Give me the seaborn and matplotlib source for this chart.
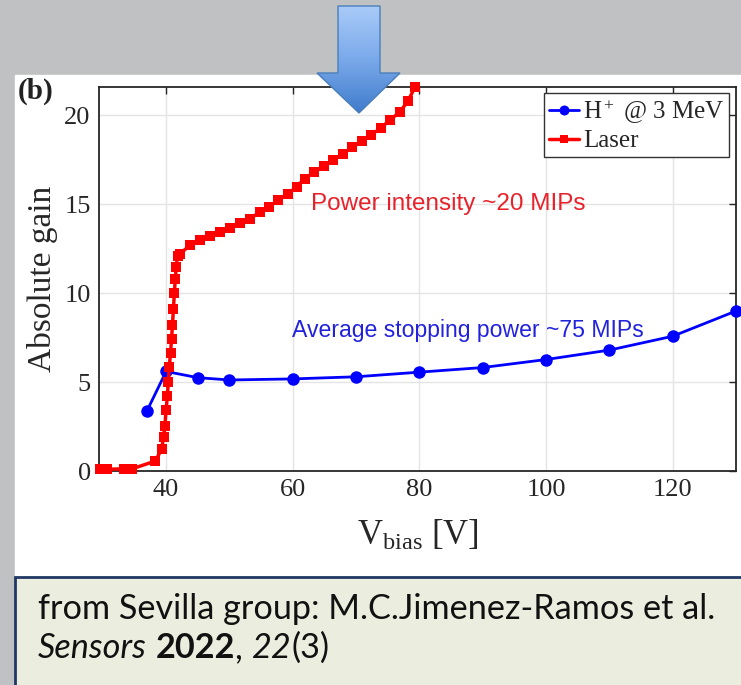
import numpy as np
import pandas as pd
import matplotlib
matplotlib.use("Agg")
import matplotlib.pyplot as plt
import seaborn as sns
from matplotlib.patches import Polygon, Rectangle
from matplotlib.colors import LinearSegmentedColormap

# ---- data -------------------------------------------------------------
# H+ beam at 3 MeV
proton_v = [37, 40, 45, 50, 60, 70, 80, 90, 100, 110, 120, 130]
proton_gain = [3.4, 5.6, 5.25, 5.12, 5.18, 5.3, 5.56, 5.82, 6.27, 6.8, 7.58, 9.0]

# Laser
laser_v = [29.6, 30.7, 33.4, 34.6, 38.3, 39.3, 39.6, 39.8, 40.0, 40.2, 40.35,
           40.5, 40.7, 40.85, 41.0, 41.15, 41.3, 41.45, 41.6, 41.8,
           42.2, 43.8, 45.4, 47.0, 48.5, 50.1, 51.7, 53.3, 54.8, 56.2, 57.7,
           59.3, 60.6, 61.9, 63.4, 64.9, 66.4, 67.9, 69.4, 70.9, 72.4, 73.9,
           75.4, 76.9, 78.2, 79.3]
laser_gain = [0.1, 0.1, 0.12, 0.12, 0.56, 1.24, 1.93, 2.53, 3.43, 4.23, 5.0,
              5.86, 6.65, 7.4, 8.2, 9.1, 10.0, 10.8, 11.5, 12.1,
              12.23, 12.7, 12.98, 13.2, 13.45, 13.69, 13.95, 14.2, 14.57, 14.85,
              15.22, 15.6, 16.0, 16.45, 16.8, 17.15, 17.5, 17.85, 18.2, 18.55,
              18.9, 19.3, 19.75, 20.2, 20.8, 21.6]

x_ticks = [40, 60, 80, 100, 120]
y_ticks = [0, 5, 10, 15, 20]

series_labels = [r"$\mathregular{H^+}$ @ 3 MeV", "Laser"]
annot_laser = "Power intensity ~20 MIPs"
annot_proton = "Average stopping power ~75 MIPs"
caption_line1 = "from Sevilla group: M.C.Jimenez-Ramos et al."
caption_line2 = [("Sensors", "italic", "normal"), (" ", "normal", "normal"),
                 ("2022", "normal", "bold"), (", ", "normal", "normal"),
                 ("22", "italic", "normal"), ("(3)", "normal", "normal")]

proton_df = pd.DataFrame({"V": proton_v, "gain": proton_gain})
laser_df = pd.DataFrame({"V": laser_v, "gain": laser_gain})

# ---- style ------------------------------------------------------------
sns.set_style("white")
plt.rcParams["font.family"] = ["Liberation Serif", "DejaVu Serif"]
plt.rcParams["mathtext.fontset"] = "stix"

W, H = 741, 685
fig = plt.figure(figsize=(W / 100, H / 100), dpi=100)

# slide canvas in pixel coordinates
bg = fig.add_axes([0, 0, 1, 1], zorder=0)
bg.set_xlim(0, W)
bg.set_ylim(H, 0)
bg.axis("off")
bg.add_patch(Rectangle((0, 0), W, H, color="#c0c1c3"))
bg.add_patch(Rectangle((15, 75), W - 15, 503, color="white"))
bg.add_patch(Rectangle((15, 577), W, 120, facecolor="#ebeedf",
                       edgecolor="#1f3864", lw=2))

# caption
cap_font = ["Lato", "DejaVu Sans"]
cap_size = 24.7
bg.text(38, 609, caption_line1, fontsize=cap_size, family=cap_font,
        color="#111111", va="center", ha="left")
renderer = fig.canvas.get_renderer()
x0 = 38
for txt, style, weight in caption_line2:
    t = bg.text(x0, 648, txt, fontsize=cap_size, family=cap_font,
                color="#111111", style=style, fontweight=weight,
                va="center", ha="left")
    x0 += t.get_window_extent(renderer).width

# panel label
bg.text(18, 91, "(b)", fontsize=21, fontweight="bold", va="center", ha="left",
        color="#222222")

# ---- main axes --------------------------------------------------------
ax = fig.add_axes([99 / W, 1 - 471 / H, (736 - 99) / W, (471 - 87) / H], zorder=2)
ax.set_facecolor("white")

sns.lineplot(data=proton_df, x="V", y="gain", ax=ax, color="#0000ff",
             marker="o", markersize=9, markeredgewidth=0, linewidth=2,
             label=series_labels[0], sort=False, clip_on=False, zorder=3)
sns.lineplot(data=laser_df, x="V", y="gain", ax=ax, color="#ff0000",
             marker="s", markersize=7, markeredgewidth=0, linewidth=2.5,
             label=series_labels[1], sort=False, clip_on=False, zorder=4)

ax.set_xlim(29.4, 130)
ax.set_ylim(0, 21.6)
ax.set_xticks(x_ticks)
ax.set_yticks(y_ticks)
ax.grid(True, color="#e4e4e4", linewidth=1)
ax.set_axisbelow(True)
for s in ax.spines.values():
    s.set_color("#262626")
    s.set_linewidth(1.3)
    s.set_visible(True)
ax.tick_params(direction="in", length=5, width=1, top=True, right=True,
               labelsize=19, colors="#262626", pad=6)

ax.set_xlabel(r"$\mathregular{V_{bias}}$ [V]", fontsize=25, color="#262626")
ax.set_ylabel("Absolute gain", fontsize=24, color="#262626")
ax.xaxis.set_label_coords(0.5, -0.125)
ax.yaxis.set_label_coords(-0.065, 0.5)

ax.text(62.9, 14.7, annot_laser, color="#e8222a", fontsize=17.5,
        family=["Liberation Sans", "DejaVu Sans"], ha="left", va="baseline")
ax.text(59.85, 7.55, annot_proton, color="#2222dd", fontsize=16.6,
        family=["Liberation Sans", "DejaVu Sans"], ha="left", va="baseline")

leg = ax.legend(loc="upper right", bbox_to_anchor=(0.989, 0.984),
                borderaxespad=0, frameon=True, fancybox=False,
                edgecolor="#333333", framealpha=1, fontsize=18,
                handlelength=1.2, handletextpad=0.15, borderpad=0.2,
                labelspacing=0.15, markerscale=0.8)
leg.get_frame().set_linewidth(1)

# ---- overlay arrow ----------------------------------------------------
ov = fig.add_axes([0, 0, 1, 1], zorder=10)
ov.set_xlim(0, W)
ov.set_ylim(H, 0)
ov.axis("off")
ov.patch.set_alpha(0)
arrow_pts = [(338, 6), (380, 6), (380, 73), (400, 73), (359, 113),
             (317, 73), (338, 73)]
shape = Polygon(arrow_pts, closed=True, facecolor="none", edgecolor="#4a7ebb",
                lw=1.0, zorder=11)
ov.add_patch(shape)
cmap = LinearSegmentedColormap.from_list("arrow", ["#a9cbf8", "#7aa9ea", "#3f7ccc"])
grad = np.linspace(0, 1, 256).reshape(-1, 1)
im = ov.imshow(grad, cmap=cmap, extent=(317, 400, 113, 6), aspect="auto",
               zorder=10)
im.set_clip_path(shape)
ov.set_xlim(0, W)
ov.set_ylim(H, 0)

fig.savefig("out.png", dpi=100)
